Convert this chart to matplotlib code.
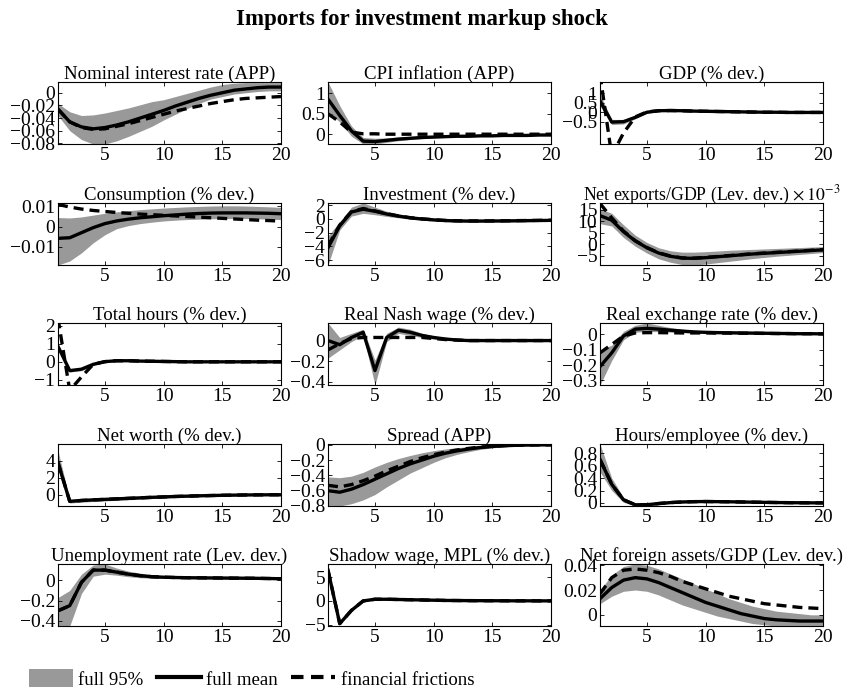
import matplotlib
matplotlib.use("Agg")
import matplotlib.pyplot as plt
from matplotlib.patches import Patch
from matplotlib.lines import Line2D

plt.rcParams['font.family'] = ['Liberation Serif', 'DejaVu Serif']
plt.rcParams['mathtext.fontset'] = 'stix'

periods = list(range(1, 21))

# Nominal interest rate (APP)
nom_mean = [-0.026, -0.046, -0.054, -0.057, -0.055, -0.051, -0.046, -0.040, -0.034, -0.028,
            -0.021, -0.015, -0.009, -0.004, 0.000, 0.004, 0.006, 0.008, 0.009, 0.009]
nom_ff = [-0.026, -0.046, -0.055, -0.058, -0.057, -0.053, -0.049, -0.044, -0.039, -0.034,
          -0.029, -0.025, -0.021, -0.017, -0.014, -0.011, -0.009, -0.008, -0.007, -0.006]
nom_lo = [-0.036, -0.060, -0.074, -0.081, -0.081, -0.076, -0.069, -0.061, -0.053, -0.043,
          -0.034, -0.025, -0.017, -0.010, -0.006, -0.002, 0.000, 0.002, 0.003, 0.003]
nom_hi = [-0.017, -0.030, -0.036, -0.035, -0.032, -0.028, -0.024, -0.019, -0.014, -0.011,
          -0.006, -0.001, 0.004, 0.009, 0.013, 0.015, 0.016, 0.016, 0.016, 0.016]

# CPI inflation (APP)
cpi_mean = [0.86, 0.46, 0.08, -0.17, -0.18, -0.15, -0.12, -0.10, -0.08, -0.07,
            -0.06, -0.05, -0.05, -0.04, -0.04, -0.03, -0.03, -0.03, -0.02, -0.02]
cpi_ff = [0.50, 0.30, 0.05, 0.01, 0.01, 0.00, 0.00, 0.00, 0.00, 0.00,
          0.00, 0.00, 0.00, 0.00, 0.00, 0.00, 0.00, 0.00, 0.00, 0.00]
cpi_lo = [0.55, 0.30, -0.05, -0.24, -0.24, -0.20, -0.16, -0.13, -0.11, -0.09,
          -0.08, -0.07, -0.06, -0.05, -0.05, -0.04, -0.04, -0.04, -0.03, -0.03]
cpi_hi = [1.28, 0.70, 0.20, -0.08, -0.10, -0.09, -0.07, -0.06, -0.05, -0.04,
          -0.04, -0.03, -0.03, -0.02, -0.02, -0.02, -0.01, -0.01, -0.01, -0.01]

# GDP (% dev.)
gdp_mean = [0.60, -0.52, -0.50, -0.27, 0.00, 0.08, 0.09, 0.08, 0.06, 0.05,
            0.04, 0.03, 0.02, 0.01, 0.00, 0.00, -0.01, -0.01, -0.01, -0.01]
gdp_ff = [2.00, -2.30, -1.10, -0.25, 0.02, 0.08, 0.09, 0.08, 0.06, 0.05,
          0.04, 0.03, 0.02, 0.01, 0.00, 0.00, -0.01, -0.01, -0.01, -0.01]
gdp_lo = [0.35, -0.65, -0.62, -0.35, -0.05, 0.04, 0.06, 0.05, 0.04, 0.03,
          0.02, 0.01, 0.00, -0.01, -0.02, -0.02, -0.03, -0.03, -0.03, -0.03]
gdp_hi = [0.95, -0.38, -0.38, -0.18, 0.05, 0.12, 0.12, 0.10, 0.08, 0.07,
          0.06, 0.05, 0.04, 0.03, 0.02, 0.02, 0.01, 0.01, 0.01, 0.01]

# Consumption (% dev.)
con_mean = [-0.0058, -0.0055, -0.0030, -0.0005, 0.0015, 0.0028, 0.0037, 0.0044, 0.0049, 0.0054,
            0.0058, 0.0062, 0.0065, 0.0067, 0.0068, 0.0068, 0.0068, 0.0067, 0.0066, 0.0064]
con_ff = [0.0110, 0.0097, 0.0087, 0.0080, 0.0075, 0.0070, 0.0066, 0.0062, 0.0059, 0.0056,
          0.0053, 0.0050, 0.0047, 0.0044, 0.0041, 0.0038, 0.0035, 0.0032, 0.0030, 0.0027]
con_lo = [-0.0190, -0.0170, -0.0130, -0.0080, -0.0040, -0.0010, 0.0005, 0.0015, 0.0022, 0.0028,
          0.0032, 0.0035, 0.0037, 0.0039, 0.0040, 0.0040, 0.0040, 0.0039, 0.0037, 0.0035]
con_hi = [0.0045, 0.0043, 0.0048, 0.0057, 0.0066, 0.0073, 0.0079, 0.0084, 0.0088, 0.0092,
          0.0095, 0.0098, 0.0100, 0.0102, 0.0103, 0.0103, 0.0102, 0.0100, 0.0098, 0.0095]

# Investment (% dev.)
inv_mean = [-4.2, -1.0, 1.0, 1.4, 1.1, 0.7, 0.4, 0.15, -0.02, -0.15,
            -0.25, -0.30, -0.32, -0.32, -0.31, -0.30, -0.28, -0.26, -0.24, -0.22]
inv_ff = [-3.9, -0.9, 1.05, 1.5, 1.15, 0.75, 0.42, 0.17, 0.0, -0.13,
          -0.23, -0.28, -0.30, -0.30, -0.29, -0.28, -0.26, -0.24, -0.22, -0.20]
inv_lo = [-6.7, -1.6, 0.4, 0.8, 0.6, 0.35, 0.15, -0.05, -0.20, -0.30,
          -0.40, -0.45, -0.47, -0.47, -0.46, -0.45, -0.43, -0.41, -0.39, -0.37]
inv_hi = [-2.5, -0.4, 1.7, 2.3, 1.7, 1.1, 0.7, 0.4, 0.2, 0.05,
          -0.08, -0.14, -0.17, -0.17, -0.16, -0.15, -0.13, -0.11, -0.09, -0.07]

# Net exports/GDP (Lev. dev.) x 10^-3
nx_mean = [12.5, 10.5, 5.5, 1.5, -1.5, -3.8, -5.2, -6.0, -6.1, -5.8,
           -5.4, -5.0, -4.6, -4.2, -3.9, -3.6, -3.3, -3.0, -2.7, -2.4]
nx_ff = [17.8, 11.5, 5.8, 1.6, -1.4, -3.7, -5.1, -5.9, -6.0, -5.7,
         -5.3, -4.9, -4.5, -4.1, -3.8, -3.5, -3.2, -2.9, -2.6, -2.3]
nx_lo = [9.0, 8.0, 3.0, -0.8, -3.8, -6.3, -7.8, -8.8, -9.0, -8.6,
         -8.0, -7.4, -6.8, -6.2, -5.7, -5.2, -4.8, -4.4, -4.0, -3.6]
nx_hi = [15.5, 13.5, 8.5, 4.0, 0.8, -1.5, -2.8, -3.4, -3.4, -3.2,
         -2.9, -2.6, -2.4, -2.2, -2.0, -1.8, -1.6, -1.4, -1.2, -1.0]

# Total hours (% dev.)
hrs_mean = [0.85, -0.50, -0.42, -0.15, 0.00, 0.05, 0.05, 0.03, 0.02, 0.01,
            0.00, -0.01, -0.01, -0.01, -0.01, -0.01, -0.01, -0.01, -0.01, -0.01]
hrs_ff = [2.40, -1.60, -0.85, -0.15, 0.00, 0.05, 0.05, 0.03, 0.02, 0.01,
          0.00, -0.01, -0.01, -0.01, -0.01, -0.01, -0.01, -0.01, -0.01, -0.01]
hrs_lo = [0.75, -0.58, -0.50, -0.22, -0.04, 0.02, 0.02, 0.01, 0.00, -0.01,
          -0.02, -0.03, -0.03, -0.03, -0.03, -0.03, -0.03, -0.03, -0.03, -0.03]
hrs_hi = [0.95, -0.42, -0.34, -0.08, 0.04, 0.08, 0.08, 0.05, 0.04, 0.03,
          0.02, 0.01, 0.01, 0.01, 0.01, 0.01, 0.01, 0.01, 0.01, 0.01]

# Real Nash wage (% dev.)
nash_mean = [0.00, -0.04, 0.03, 0.08, -0.29, 0.03, 0.10, 0.08, 0.05, 0.03,
             0.015, 0.005, 0.0, 0.0, 0.0, 0.0, 0.0, 0.0, 0.0, 0.0]
nash_ff = [-0.09, -0.03, 0.02, 0.03, 0.03, 0.03, 0.03, 0.03, 0.03, 0.02,
           0.01, 0.005, 0.0, 0.0, 0.0, 0.0, 0.0, 0.0, 0.0, 0.0]
nash_lo = [-0.17, -0.09, -0.01, 0.05, -0.43, -0.01, 0.07, 0.05, 0.03, 0.015,
           0.005, 0.0, -0.005, -0.005, -0.005, -0.005, -0.005, -0.005, -0.005, -0.005]
nash_hi = [0.17, 0.03, 0.07, 0.11, -0.19, 0.07, 0.13, 0.11, 0.07, 0.045,
           0.025, 0.012, 0.006, 0.005, 0.005, 0.005, 0.005, 0.005, 0.005, 0.005]

# Real exchange rate (% dev.)
rer_mean = [-0.21, -0.12, -0.01, 0.035, 0.04, 0.035, 0.028, 0.022, 0.017, 0.014,
            0.012, 0.011, 0.010, 0.009, 0.008, 0.007, 0.006, 0.005, 0.005, 0.004]
rer_ff = [-0.12, -0.065, -0.01, 0.010, 0.012, 0.012, 0.011, 0.010, 0.010, 0.010,
          0.009, 0.009, 0.008, 0.008, 0.007, 0.006, 0.006, 0.005, 0.005, 0.004]
rer_lo = [-0.33, -0.17, -0.035, 0.015, 0.020, 0.018, 0.015, 0.012, 0.010, 0.008,
          0.006, 0.005, 0.004, 0.003, 0.002, 0.001, 0.001, 0.000, 0.000, 0.000]
rer_hi = [-0.10, -0.07, 0.02, 0.06, 0.075, 0.06, 0.045, 0.035, 0.027, 0.022,
          0.019, 0.017, 0.016, 0.015, 0.014, 0.013, 0.012, 0.011, 0.010, 0.009]

# Net worth (% dev.)
nw_mean = [3.8, -0.75, -0.65, -0.58, -0.52, -0.46, -0.40, -0.34, -0.28, -0.23,
           -0.18, -0.14, -0.10, -0.07, -0.04, -0.02, 0.0, 0.01, 0.02, 0.02]
nw_ff = [3.8, -0.75, -0.65, -0.58, -0.52, -0.46, -0.40, -0.34, -0.28, -0.23,
         -0.18, -0.14, -0.10, -0.07, -0.04, -0.02, 0.0, 0.01, 0.02, 0.02]
nw_lo = [3.0, -0.95, -0.85, -0.77, -0.70, -0.63, -0.56, -0.49, -0.42, -0.36,
         -0.30, -0.25, -0.20, -0.16, -0.12, -0.09, -0.07, -0.05, -0.04, -0.03]
nw_hi = [5.2, -0.55, -0.45, -0.39, -0.34, -0.29, -0.24, -0.19, -0.14, -0.10,
         -0.06, -0.03, 0.0, 0.02, 0.04, 0.05, 0.06, 0.07, 0.07, 0.07]

# Spread (APP)
spr_mean = [-0.60, -0.62, -0.58, -0.52, -0.45, -0.38, -0.31, -0.25, -0.20, -0.15,
            -0.11, -0.08, -0.055, -0.035, -0.022, -0.013, -0.007, -0.004, -0.002, -0.001]
spr_ff = [-0.53, -0.55, -0.52, -0.47, -0.41, -0.34, -0.28, -0.22, -0.17, -0.13,
          -0.095, -0.068, -0.047, -0.030, -0.019, -0.011, -0.006, -0.003, -0.002, -0.001]
spr_lo = [-0.80, -0.80, -0.77, -0.72, -0.65, -0.55, -0.46, -0.37, -0.30, -0.23,
          -0.17, -0.125, -0.09, -0.06, -0.04, -0.025, -0.015, -0.009, -0.005, -0.003]
spr_hi = [-0.42, -0.43, -0.41, -0.36, -0.29, -0.23, -0.18, -0.14, -0.105, -0.077,
          -0.055, -0.038, -0.025, -0.015, -0.009, -0.005, -0.002, 0.0, 0.0, 0.0]

# Hours/employee (% dev.)
hpe_mean = [0.70, 0.30, 0.05, -0.03, -0.03, -0.01, 0.005, 0.015, 0.020, 0.022,
            0.020, 0.018, 0.015, 0.012, 0.009, 0.006, 0.004, 0.002, 0.001, 0.000]
hpe_ff = [0.70, 0.30, 0.05, -0.03, -0.03, -0.01, 0.005, 0.015, 0.020, 0.022,
          0.020, 0.018, 0.015, 0.012, 0.009, 0.006, 0.004, 0.002, 0.001, 0.000]
hpe_lo = [0.50, 0.20, 0.01, -0.05, -0.05, -0.03, -0.01, 0.000, 0.005, 0.008,
          0.008, 0.007, 0.005, 0.003, 0.001, -0.001, -0.002, -0.003, -0.004, -0.004]
hpe_hi = [0.95, 0.40, 0.09, -0.01, -0.01, 0.01, 0.02, 0.030, 0.035, 0.036,
          0.034, 0.030, 0.026, 0.022, 0.018, 0.014, 0.011, 0.008, 0.006, 0.005]

# Unemployment rate (Lev. dev.)
un_mean = [-0.30, -0.25, -0.02, 0.10, 0.10, 0.08, 0.06, 0.045, 0.035, 0.030,
           0.027, 0.025, 0.024, 0.023, 0.022, 0.021, 0.020, 0.019, 0.017, 0.015]
un_ff = [-0.30, -0.25, -0.02, 0.10, 0.10, 0.08, 0.06, 0.045, 0.035, 0.030,
         0.027, 0.025, 0.024, 0.023, 0.022, 0.021, 0.020, 0.019, 0.017, 0.015]
un_lo = [-0.45, -0.45, -0.13, 0.04, 0.06, 0.05, 0.035, 0.025, 0.020, 0.018,
         0.017, 0.016, 0.015, 0.014, 0.013, 0.012, 0.011, 0.010, 0.008, 0.006]
un_hi = [-0.17, -0.10, 0.06, 0.15, 0.16, 0.12, 0.09, 0.07, 0.055, 0.045,
         0.040, 0.036, 0.034, 0.032, 0.031, 0.030, 0.029, 0.028, 0.026, 0.024]

# Shadow wage, MPL (% dev.)
sw_mean = [6.5, -4.8, -2.0, 0.0, 0.35, 0.35, 0.30, 0.25, 0.20, 0.15,
           0.10, 0.08, 0.06, 0.05, 0.04, 0.03, 0.02, 0.02, 0.01, 0.01]
sw_ff = [6.5, -4.8, -2.0, 0.0, 0.35, 0.35, 0.30, 0.25, 0.20, 0.15,
         0.10, 0.08, 0.06, 0.05, 0.04, 0.03, 0.02, 0.02, 0.01, 0.01]
sw_lo = [6.3, -5.0, -2.2, -0.15, 0.2, 0.2, 0.15, 0.12, 0.08, 0.05,
         0.02, 0.0, -0.01, -0.02, -0.02, -0.03, -0.03, -0.03, -0.04, -0.04]
sw_hi = [6.7, -4.6, -1.8, 0.15, 0.5, 0.5, 0.45, 0.38, 0.32, 0.25,
         0.18, 0.15, 0.13, 0.12, 0.10, 0.09, 0.08, 0.07, 0.06, 0.06]

# Net foreign assets/GDP (Lev. dev.)
nfa_mean = [0.013, 0.022, 0.028, 0.030, 0.029, 0.026, 0.022, 0.018, 0.014, 0.010,
            0.007, 0.004, 0.001, -0.001, -0.003, -0.004, -0.0045, -0.005, -0.005, -0.005]
nfa_ff = [0.017, 0.030, 0.036, 0.037, 0.036, 0.034, 0.031, 0.027, 0.024, 0.021,
          0.018, 0.015, 0.013, 0.011, 0.009, 0.008, 0.007, 0.006, 0.0055, 0.005]
nfa_lo = [0.009, 0.015, 0.019, 0.020, 0.019, 0.016, 0.012, 0.008, 0.005, 0.002,
          -0.001, -0.003, -0.005, -0.007, -0.008, -0.009, -0.009, -0.009, -0.009, -0.009]
nfa_hi = [0.020, 0.032, 0.039, 0.041, 0.040, 0.037, 0.033, 0.029, 0.025, 0.021,
          0.017, 0.013, 0.010, 0.007, 0.005, 0.003, 0.002, 0.001, 0.000, 0.000]

titles = ['Nominal interest rate (APP)', 'CPI inflation (APP)', 'GDP (% dev.)',
          'Consumption (% dev.)', 'Investment (% dev.)',
          r'Net exports/GDP (Lev. dev.) $\times\,10^{-3}$',
          'Total hours (% dev.)', 'Real Nash wage (% dev.)', 'Real exchange rate (% dev.)',
          'Net worth (% dev.)', 'Spread (APP)', 'Hours/employee (% dev.)',
          'Unemployment rate (Lev. dev.)', 'Shadow wage, MPL (% dev.)',
          'Net foreign assets/GDP (Lev. dev.)']

yticks = [[-0.08, -0.06, -0.04, -0.02, 0], [0, 0.5, 1], [-0.5, 0, 0.5, 1],
          [-0.01, 0, 0.01], [-6, -4, -2, 0, 2], [-5, 0, 5, 10, 15],
          [-1, 0, 1, 2], [-0.4, -0.2, 0], [-0.3, -0.2, -0.1, 0],
          [0, 2, 4], [-0.8, -0.6, -0.4, -0.2, 0], [0, 0.2, 0.4, 0.6, 0.8],
          [-0.4, -0.2, 0], [-5, 0, 5], [0, 0.02, 0.04]]

ylims = [(-0.081, 0.017), (-0.24, 1.28), (-1.68, 1.6),
         (-0.019, 0.0117), (-6.7, 2.3), (-9.0, 18.0),
         (-1.3, 2.15), (-0.43, 0.17), (-0.33, 0.075),
         (-1.3, 6.0), (-0.8, 0.01), (-0.05, 0.95),
         (-0.45, 0.16), (-5.3, 7.8), (-0.009, 0.041)]

series = [(nom_mean, nom_ff, nom_lo, nom_hi), (cpi_mean, cpi_ff, cpi_lo, cpi_hi),
          (gdp_mean, gdp_ff, gdp_lo, gdp_hi), (con_mean, con_ff, con_lo, con_hi),
          (inv_mean, inv_ff, inv_lo, inv_hi), (nx_mean, nx_ff, nx_lo, nx_hi),
          (hrs_mean, hrs_ff, hrs_lo, hrs_hi), (nash_mean, nash_ff, nash_lo, nash_hi),
          (rer_mean, rer_ff, rer_lo, rer_hi), (nw_mean, nw_ff, nw_lo, nw_hi),
          (spr_mean, spr_ff, spr_lo, spr_hi), (hpe_mean, hpe_ff, hpe_lo, hpe_hi),
          (un_mean, un_ff, un_lo, un_hi), (sw_mean, sw_ff, sw_lo, sw_hi),
          (nfa_mean, nfa_ff, nfa_lo, nfa_hi)]

band_color = '#999999'
W, H = 844, 690
fig = plt.figure(figsize=(W / 100, H / 100), dpi=100)

col_left = [58, 328, 600]
row_top = [82, 203, 323, 444, 564]
ax_w, ax_h = 223, 62


def fmt(v):
    s = ('%g' % v)
    return s.replace('-', '\u2212')


for i, (mean, ff, lo, hi) in enumerate(series):
    r, c = divmod(i, 3)
    ax = fig.add_axes([col_left[c] / W, 1 - (row_top[r] + ax_h) / H, ax_w / W, ax_h / H])
    ax.fill_between(periods, lo, hi, color=band_color, linewidth=0)
    ax.plot(periods, ff, color='black', lw=2.4, dashes=(3, 1.8))
    ax.plot(periods, mean, color='black', lw=2.4)
    ax.set_xlim(1, 20)
    ax.set_ylim(*ylims[i])
    ax.set_xticks([5, 10, 15, 20])
    ax.set_yticks(yticks[i])
    ax.set_yticklabels([fmt(v) for v in yticks[i]])
    ax.tick_params(direction='in', length=3, width=0.6, labelsize=14, pad=2,
                   top=True, right=True)
    for sp in ax.spines.values():
        sp.set_linewidth(0.8)
    tsize = 12.8 if i == 5 else 13.6
    ax.set_title(titles[i], fontsize=tsize, pad=2)

fig.suptitle('Imports for investment markup shock', fontsize=16.5, fontweight='bold',
             y=1 - 20 / H, va='center')

handles = [Patch(facecolor=band_color, edgecolor='none'),
           Line2D([], [], color='black', lw=3),
           Line2D([], [], color='black', lw=3, dashes=(3, 1.8))]
fig.legend(handles, ['full 95%', 'full mean', 'financial frictions'],
           loc='center left', bbox_to_anchor=(21 / W, 1 - 679 / H), ncol=3,
           frameon=False, fontsize=13.5, handlelength=2.35, handleheight=1.1,
           handletextpad=0.3, columnspacing=0.7, borderaxespad=0)

fig.savefig('out.png', dpi=100)
